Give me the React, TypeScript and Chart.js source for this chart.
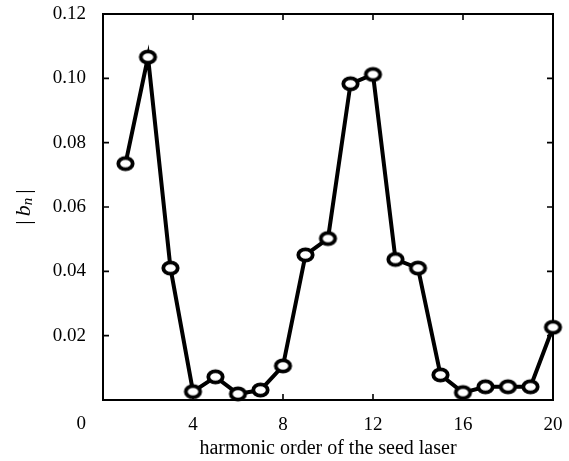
import React, { useEffect, useRef } from "react";
import { Chart, registerables } from "chart.js";

Chart.register(...registerables);

const harmonicOrder = [1, 2, 3, 4, 5, 6, 7, 8, 9, 10, 11, 12, 13, 14, 15, 16, 17, 18, 19, 20];
const bnValues = [
  0.0735, 0.1066, 0.041, 0.0026, 0.0072, 0.0019, 0.0031, 0.0106, 0.0451, 0.0502,
  0.0983, 0.1012, 0.0437, 0.041, 0.0078, 0.0023, 0.0041, 0.0041, 0.0041, 0.0226,
];
const xRange = [0, 20];
const yRange = [0, 0.12];
const xStep = 4;
const yStep = 0.02;
const xTitle = "harmonic order of the seed laser";
const originLabel = "0";

const SERIF = "'Liberation Serif', 'Times New Roman', serif";

function makeMarker(): HTMLCanvasElement {
  const c = document.createElement("canvas");
  c.width = 21;
  c.height = 18;
  const g = c.getContext("2d")!;
  g.beginPath();
  g.ellipse(10.5, 9, 7.2, 5.6, 0, 0, Math.PI * 2);
  g.fillStyle = "#ffffff";
  g.fill();
  g.lineWidth = 3.8;
  g.strokeStyle = "#000000";
  g.stroke();
  return c;
}

const framePlugin = {
  id: "frameTicks",
  beforeDatasetsDraw(chart: any) {
    const { ctx, chartArea } = chart;
    const { left, right, top, bottom } = chartArea;
    const xs = chart.scales.x;
    const ys = chart.scales.y;
    ctx.save();
    ctx.strokeStyle = "#000";
    ctx.lineWidth = 2;
    ctx.strokeRect(left, top, right - left, bottom - top);
    ctx.lineWidth = 1.6;
    const tl = 6;
    ctx.beginPath();
    xs.ticks.forEach((t: any) => {
      const px = xs.getPixelForValue(t.value);
      if (px <= left + 1 || px >= right - 1) return;
      ctx.moveTo(px, bottom);
      ctx.lineTo(px, bottom - tl);
      ctx.moveTo(px, top);
      ctx.lineTo(px, top + tl);
    });
    ys.ticks.forEach((t: any) => {
      const py = ys.getPixelForValue(t.value);
      if (py <= top + 1 || py >= bottom - 1) return;
      ctx.moveTo(left, py);
      ctx.lineTo(left + tl, py);
      ctx.moveTo(right, py);
      ctx.lineTo(right - tl, py);
    });
    ctx.stroke();
    ctx.restore();
  },
  afterDraw(chart: any) {
    const { ctx, chartArea } = chart;
    ctx.save();
    ctx.fillStyle = "#000";
    // origin label
    ctx.font = `19px ${SERIF}`;
    ctx.textAlign = "right";
    ctx.textBaseline = "middle";
    ctx.fillText(originLabel, chartArea.left - 17, chartArea.bottom + 24);
    // y axis title |b_n|
    const cy = (chartArea.top + chartArea.bottom) / 2;
    ctx.translate(24, cy);
    ctx.rotate(-Math.PI / 2);
    ctx.textAlign = "left";
    ctx.textBaseline = "middle";
    const fReg = `22px ${SERIF}`;
    const fIt = `italic 22px ${SERIF}`;
    const fSub = `italic 15px ${SERIF}`;
    const parts = [
      { t: "|", f: fReg, dy: 0, gap: 4 },
      { t: "b", f: fIt, dy: 0, gap: 0 },
      { t: "n", f: fSub, dy: 4, gap: 4 },
      { t: "|", f: fReg, dy: 0, gap: 0 },
    ];
    let total = 0;
    parts.forEach((p) => {
      ctx.font = p.f;
      total += ctx.measureText(p.t).width + p.gap;
    });
    let x = -total / 2;
    parts.forEach((p) => {
      ctx.font = p.f;
      ctx.fillText(p.t, x, p.dy);
      x += ctx.measureText(p.t).width + p.gap;
    });
    ctx.restore();
  },
};

export default function App() {
  const ref = useRef<HTMLCanvasElement | null>(null);
  useEffect(() => {
    if (!ref.current) return;
    const marker = makeMarker();
    const chart = new Chart(ref.current, {
      type: "line",
      data: {
        datasets: [
          {
            data: harmonicOrder.map((x, i) => ({ x, y: bnValues[i] })),
            borderColor: "#000",
            borderWidth: 4,
            pointStyle: marker as any,
            pointRadius: 8,
            pointHoverRadius: 8,
            backgroundColor: "#fff",
            tension: 0,
            clip: false as any,
          },
        ],
      },
      options: {
        animation: false,
        responsive: true,
        maintainAspectRatio: false,
        layout: { padding: { top: 14, right: 16, left: 0, bottom: 0 } },
        plugins: { legend: { display: false }, tooltip: { enabled: false } },
        events: [],
        scales: {
          x: {
            type: "linear",
            min: xRange[0],
            max: xRange[1],
            afterFit: (s: any) => {
              s.height = 61;
              s.paddingLeft = 0;
              s.paddingRight = 0;
              s.paddingTop = 0;
              s.paddingBottom = 0;
            },
            grid: { display: false, drawTicks: false },
            border: { display: false },
            ticks: {
              stepSize: xStep,
              padding: 14,
              color: "#000",
              font: { family: SERIF, size: 19 },
              maxRotation: 0,
              callback: (v: any) => (Number(v) === 0 ? "" : String(v)),
            },
            title: {
              display: true,
              text: xTitle,
              color: "#000",
              font: { family: SERIF, size: 20 },
              padding: { top: 0, bottom: 0 },
            },
          },
          y: {
            type: "linear",
            min: yRange[0],
            max: yRange[1],
            afterFit: (s: any) => {
              s.width = 103;
              s.paddingLeft = 0;
              s.paddingRight = 0;
              s.paddingTop = 0;
              s.paddingBottom = 0;
            },
            grid: { display: false, drawTicks: false },
            border: { display: false },
            ticks: {
              stepSize: yStep,
              padding: 17,
              color: "#000",
              font: { family: SERIF, size: 19 },
              callback: (v: any) => (Math.abs(Number(v)) < 1e-9 ? "" : Number(v).toFixed(2)),
            },
          },
        },
      },
      plugins: [framePlugin],
    });
    return () => chart.destroy();
  }, []);
  return (
    <div style={{ position: "absolute", left: 0, top: 0, width: 569, height: 461, background: "#fff" }}>
      <canvas ref={ref} />
    </div>
  );
}
